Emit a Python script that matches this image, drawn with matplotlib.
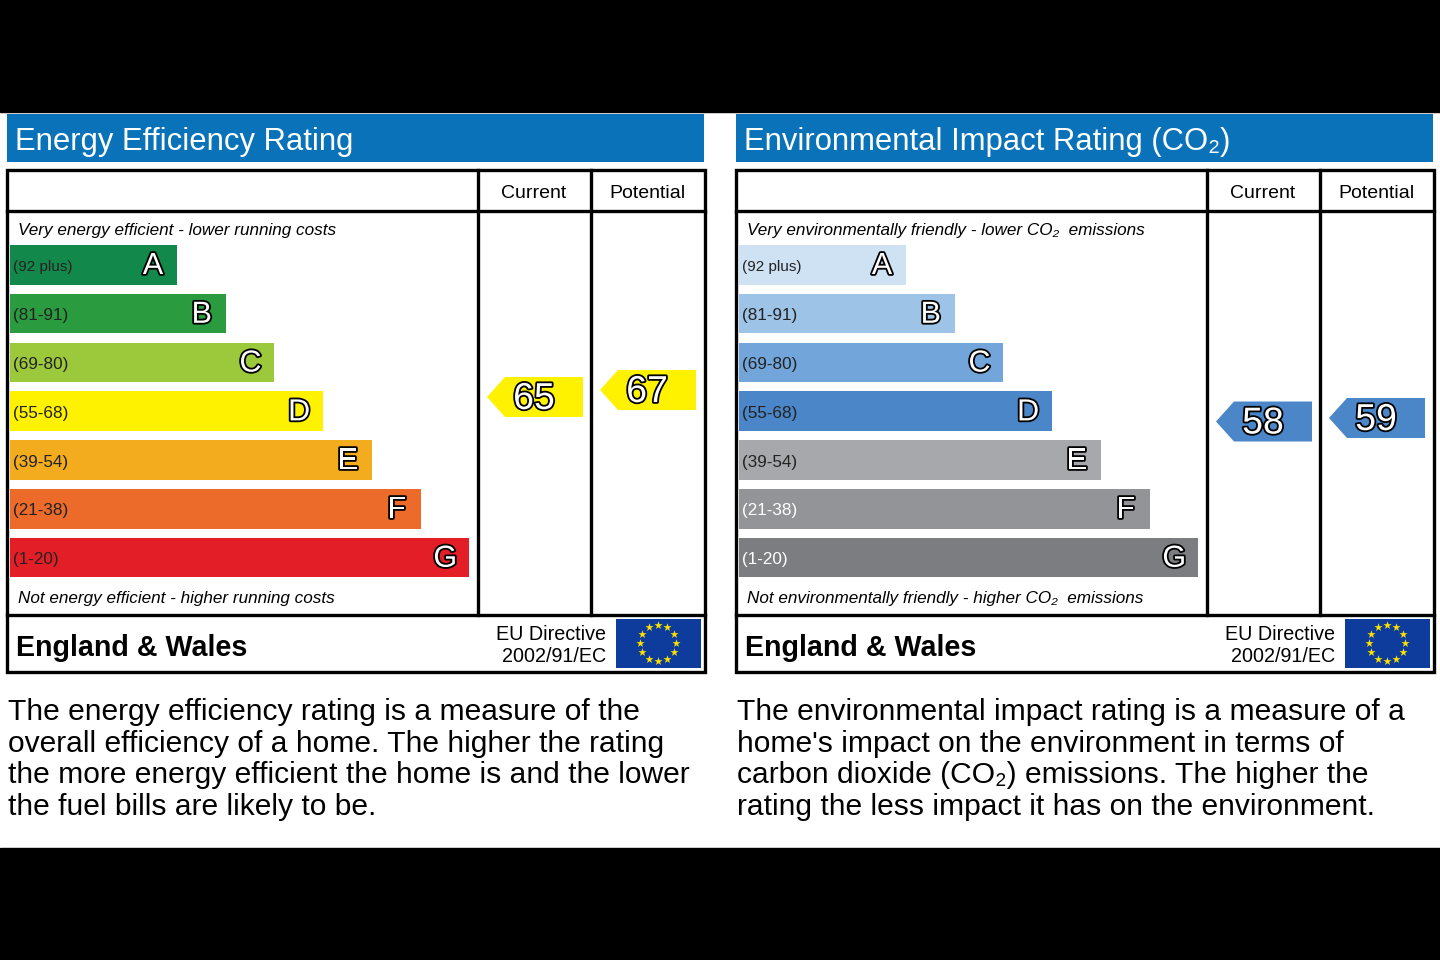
import matplotlib.pyplot as plt
from matplotlib.patches import Rectangle, Polygon
import matplotlib.patheffects as pe
import numpy as np

plt.rcParams['font.family'] = ['Liberation Sans', 'DejaVu Sans']

# data
band_letters = ['A', 'B', 'C', 'D', 'E', 'F', 'G']
band_ranges = ['(92 plus)', '(81-91)', '(69-80)', '(55-68)', '(39-54)', '(21-38)', '(1-20)']
ee_colors = ['#12884a', '#2a9b3e', '#9cc83c', '#fff200', '#f4ac1f', '#ec6a2a', '#e31e26']
ei_colors = ['#cfe2f4', '#9dc3e6', '#72a6da', '#4b86c8', '#a6a8ab', '#929497', '#7c7d80']
ee_label_colors = ['#222222'] * 7
ei_label_colors = ['#222222'] * 5 + ['#ffffff'] * 2
ee_current, ee_potential = 65, 67
ei_current, ei_potential = 58, 59

panels = [
    dict(x0=0, title='Energy Efficiency Rating',
         top='Very energy efficient - lower running costs',
         bottom='Not energy efficient - higher running costs',
         colors=ee_colors, label_colors=ee_label_colors,
         arrow_color='#fff200', values=(ee_current, ee_potential),
         desc=['The energy efficiency rating is a measure of the',
               'overall efficiency of a home. The higher the rating',
               'the more energy efficient the home is and the lower',
               'the fuel bills are likely to be.']),
    dict(x0=729, title='Environmental Impact Rating (CO\u2082)',
         top='Very environmentally friendly - lower CO\u2082  emissions',
         bottom='Not environmentally friendly - higher CO\u2082  emissions',
         colors=ei_colors, label_colors=ei_label_colors,
         arrow_color='#4b86c8', values=(ei_current, ei_potential),
         desc=['The environmental impact rating is a measure of a',
               "home's impact on the environment in terms of",
               'carbon dioxide (CO\u2082) emissions. The higher the',
               'rating the less impact it has on the environment.']),
]

fig = plt.figure(figsize=(14.4, 9.6), dpi=100)
ax = fig.add_axes([0, 0, 1, 1])
ax.set_xlim(0, 1440)
ax.set_ylim(960, 0)
ax.axis('off')

# black bands
ax.add_patch(Rectangle((0, 0), 1440, 112, color='black'))
ax.add_patch(Rectangle((0, 848), 1440, 112, color='black'))

outline = [pe.withStroke(linewidth=2.6, foreground='black')]


def arrow(x_right, value, color):
    yc = 624.5 - 3.5 * value
    h, w, tip = 40, 96, 18
    pts = [(x_right - w, yc), (x_right - w + tip, yc - h / 2), (x_right, yc - h / 2),
           (x_right, yc + h / 2), (x_right - w + tip, yc + h / 2)]
    ax.add_patch(Polygon(pts, closed=True, color=color, lw=0))
    ax.text(x_right - 49, yc + 2, str(value), fontsize=27, color='white',
            ha='center', va='center', path_effects=outline)


for p in panels:
    x0 = p['x0']
    # title bar
    ax.add_patch(Rectangle((x0 + 7, 114), 697, 48, color='#0a72b8', lw=0))
    ax.text(x0 + 15, 142, p['title'], fontsize=22.3, color='white', va='center')

    # frame
    lw = 2.4
    ax.add_patch(Rectangle((x0 + 7, 170), 698, 502, fill=False, ec='black', lw=lw))
    ax.plot([x0 + 7, x0 + 705], [211, 211], color='black', lw=lw)
    ax.plot([x0 + 7, x0 + 705], [615, 615], color='black', lw=lw)
    ax.plot([x0 + 478, x0 + 478], [170, 615], color='black', lw=lw)
    ax.plot([x0 + 591, x0 + 591], [170, 615], color='black', lw=lw)
    ax.text(x0 + 534, 194, 'Current', fontsize=14, ha='center', va='center')
    ax.text(x0 + 647, 194, 'Potential', fontsize=14, ha='center', va='center')

    ax.text(x0 + 18, 230, p['top'], fontsize=12.3, style='italic', va='center')
    ax.text(x0 + 18, 599, p['bottom'], fontsize=12.3, style='italic', va='center')

    # bands
    for i, (letter, rng) in enumerate(zip(band_letters, band_ranges)):
        top = 245 + i * 48.8
        right = 177 + i * 48.7
        ax.add_patch(Rectangle((x0 + 10, top), right - 10, 39.5,
                               color=p['colors'][i], lw=0))
        ax.text(x0 + 13, top + 22, rng, fontsize=11 if i == 0 else 12.3,
                color=p['label_colors'][i], va='center')
        ax.text(x0 + right - 24, top + 21, letter, fontsize=22, color='white',
                ha='center', va='center', path_effects=outline)

    # rating arrows
    arrow(x0 + 583, p['values'][0], p['arrow_color'])
    arrow(x0 + 696, p['values'][1], p['arrow_color'])

    # footer
    ax.text(x0 + 16, 648, 'England & Wales', fontsize=20.6, weight='bold', va='center')
    ax.text(x0 + 606, 634, 'EU Directive', fontsize=14.2, ha='right', va='center')
    ax.text(x0 + 606, 657, '2002/91/EC', fontsize=14.2, ha='right', va='center')
    ax.add_patch(Rectangle((x0 + 616, 619), 85, 49, color='#0d3c9c', lw=0))
    ang = np.linspace(0, 2 * np.pi, 12, endpoint=False)
    ax.scatter(x0 + 658 + 18 * np.cos(ang), 643 + 18 * np.sin(ang), marker='*',
               s=38, color='#ffe100', lw=0, zorder=5)

    # description
    for j, line in enumerate(p['desc']):
        ax.text(x0 + 8, 712 + j * 31.6, line, fontsize=21.6, va='center')

fig.savefig('out.png', dpi=100, facecolor='white')
